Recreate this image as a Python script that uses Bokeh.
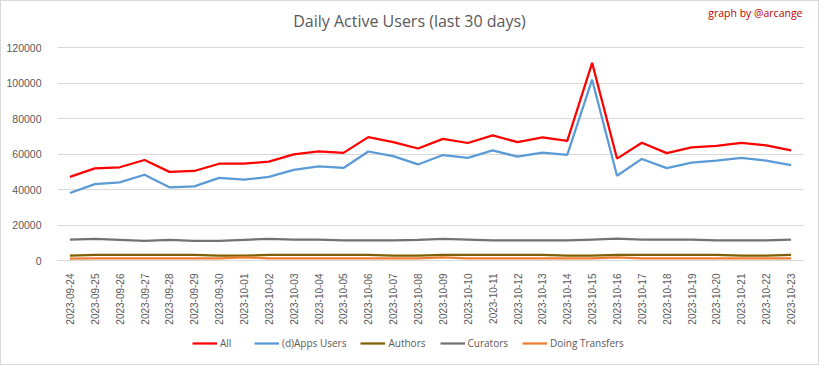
from bokeh.plotting import figure
from bokeh.layouts import column
from bokeh.models import (FactorRange, Range1d, FixedTicker, BasicTickFormatter,
                          Legend, LegendItem, Label)
from bokeh.embed import file_html
from bokeh.resources import INLINE

dates = ["2023-09-24", "2023-09-25", "2023-09-26", "2023-09-27", "2023-09-28",
         "2023-09-29", "2023-09-30", "2023-10-01", "2023-10-02", "2023-10-03",
         "2023-10-04", "2023-10-05", "2023-10-06", "2023-10-07", "2023-10-08",
         "2023-10-09", "2023-10-10", "2023-10-11", "2023-10-12", "2023-10-13",
         "2023-10-14", "2023-10-15", "2023-10-16", "2023-10-17", "2023-10-18",
         "2023-10-19", "2023-10-20", "2023-10-21", "2023-10-22", "2023-10-23"]

all_users = [47200, 52000, 52600, 56700, 50000, 50500, 54600, 54700, 55800, 59900,
             61600, 60700, 69600, 66800, 63200, 68600, 66300, 70600, 66800, 69500,
             67500, 111500, 57500, 66400, 60600, 63800, 64700, 66400, 65000, 62100]
apps_users = [38100, 43100, 44100, 48400, 41300, 41800, 46600, 45600, 47200, 51100,
              53100, 52200, 61500, 58900, 54200, 59500, 57900, 62100, 58600, 60900,
              59600, 102000, 47800, 57300, 52100, 55200, 56400, 57900, 56400, 53800]
authors = [2700, 3200, 3200, 3200, 3200, 3200, 2700, 2700, 3200, 3200,
           3200, 3200, 3200, 2700, 2700, 3200, 3200, 3200, 3200, 3200,
           2700, 2700, 3200, 3200, 3200, 3200, 3200, 2700, 2700, 3200]
curators = [11800, 12200, 11700, 11100, 11700, 11100, 11100, 11700, 12200, 11800,
            11800, 11300, 11300, 11300, 11700, 12200, 11800, 11300, 11300, 11300,
            11300, 11800, 12300, 11800, 11800, 11800, 11300, 11300, 11300, 11800]
transfers = [1100, 1200, 1200, 1200, 1200, 1200, 1200, 1800, 1200, 1200,
             1200, 1200, 1200, 1200, 1200, 1700, 1200, 1200, 1200, 1200,
             1200, 1200, 1800, 1200, 1200, 1200, 1200, 1200, 1200, 1200]

y_ticks = [0, 20000, 40000, 60000, 80000, 100000, 120000]

series = [
    ("All", all_users, "#FF0000"),
    ("(d)Apps Users", apps_users, "#5B9BD5"),
    ("Authors", authors, "#7F6000"),
    ("Curators", curators, "#767171"),
    ("Doing Transfers", transfers, "#ED7D31"),
]

FONT = "Open Sans"
AXFONT = "Liberation Sans"
GREY = "#595959"

# main chart: frame reaches near the top; headroom above 120000 holds the titles
p = figure(width=817, height=326, x_range=FactorRange(*dates),
           y_range=Range1d(0, 145000), output_backend="svg",
           toolbar_location=None, min_border_left=56, min_border_right=15,
           min_border_top=2, min_border_bottom=63)
p.outline_line_color = None
p.background_fill_color = "white"
p.border_fill_color = "white"

p.xgrid.grid_line_color = None
p.ygrid.grid_line_color = "#D9D9D9"
p.ygrid.grid_line_width = 1

p.yaxis.ticker = FixedTicker(ticks=y_ticks)
p.yaxis.formatter = BasicTickFormatter(use_scientific=False)
p.yaxis.axis_line_color = None
p.yaxis.major_tick_line_color = None
p.yaxis.minor_tick_line_color = None
p.yaxis.major_label_text_font = AXFONT
p.yaxis.major_label_text_font_size = "10.5px"
p.yaxis.major_label_text_color = GREY
p.yaxis.major_label_standoff = 10

p.xaxis.axis_line_color = "#D9D9D9"
p.xaxis.major_tick_line_color = None
p.xaxis.minor_tick_line_color = None
p.xaxis.major_label_orientation = 1.5707963
p.xaxis.major_label_text_font = AXFONT
p.xaxis.major_label_text_font_size = "10px"
p.xaxis.major_label_text_color = GREY
p.xaxis.major_label_standoff = 7

for name, vals, color in series:
    p.line(dates, vals, line_color=color, line_width=2.25)

title = Label(x=352, y=240, x_units="screen", y_units="screen",
              text="Daily Active Users (last 30 days)", text_font=FONT,
              text_font_size="16px", text_color=GREY, text_align="center",
              text_baseline="middle")
credit = Label(x=745, y=248, x_units="screen", y_units="screen",
               text="graph by @arcange", text_font=FONT, text_font_size="10.5px",
               text_color="#C00000", text_align="right", text_baseline="middle")
p.add_layout(title)
p.add_layout(credit)

# legend strip below the chart (no axes, so its frame is the whole strip)
pl = figure(width=817, height=37, x_range=FactorRange(*dates),
            y_range=Range1d(0, 145000), output_backend="svg",
            toolbar_location=None, min_border=0,
            x_axis_location=None, y_axis_location=None)
pl.grid.grid_line_color = None
pl.outline_line_color = None
pl.border_fill_color = "white"

items = []
for name, vals, color in series:
    r = pl.line(dates, vals, line_color=color, line_width=2.25, visible=False)
    items.append(LegendItem(label=name, renderers=[r]))

legend = Legend(items=items, orientation="horizontal", location=(135, 13),
                label_text_font=FONT, label_text_font_size="10px",
                label_text_color=GREY, border_line_color=None,
                background_fill_alpha=0, glyph_width=25, glyph_height=16,
                label_height=16, label_standoff=3, spacing=14, padding=4,
                margin=0)
pl.add_layout(legend)

layout = column(p, pl, spacing=0)
layout.styles = {"border": "1px solid #D9D9D9"}

open("out.html", "w").write(file_html(layout, INLINE))
